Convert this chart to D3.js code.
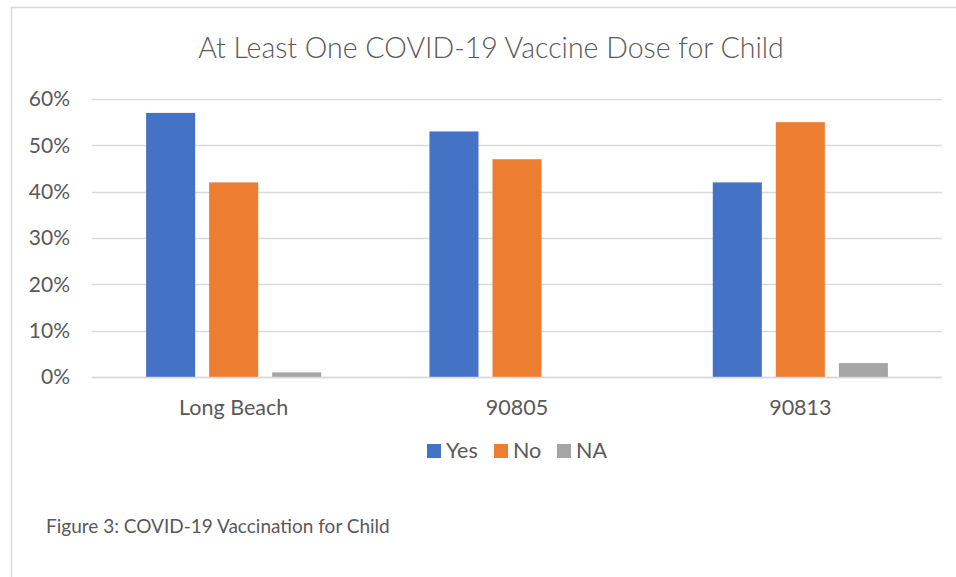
<!DOCTYPE html>
<html>
<head>
<meta charset="utf-8">
<script src="https://cdn.jsdelivr.net/npm/d3@7"></script>
<style>
  html, body { margin: 0; padding: 0; background: #fff; }
  svg { display: block; font-family: Lato, "Noto Sans", sans-serif; }
</style>
</head>
<body>
<div id="chart"></div>
<script>
// ---------- Data ----------
const categories = ["Long Beach", "90805", "90813"];
const seriesNames = ["Yes", "No", "NA"];
const yesValues = [0.57, 0.53, 0.42];
const noValues = [0.42, 0.47, 0.55];
const naValues = [0.01, 0.0, 0.03];
const yTicks = [0, 0.1, 0.2, 0.3, 0.4, 0.5, 0.6];
const titleText = "At Least One COVID-19 Vaccine Dose for Child";
const captionText = "Figure 3: COVID-19 Vaccination for Child";

const COLORS = d3.scaleOrdinal().domain(seriesNames).range(["#4472C4", "#ED7D31", "#A5A5A5"]);
const TEXT = "#595959";

const rows = categories.map((c, i) => ({
  cat: c,
  vals: [
    { s: "Yes", v: yesValues[i] },
    { s: "No", v: noValues[i] },
    { s: "NA", v: naValues[i] },
  ],
}));

const W = 956, H = 577;
const svg = d3.select("#chart").append("svg").attr("width", W).attr("height", H);

// frame
svg.append("rect")
  .attr("x", 11.5).attr("y", 7.5)
  .attr("width", W + 20).attr("height", H + 20)
  .attr("fill", "#fff").attr("stroke", "#d9d9d9").attr("stroke-width", 1.5);

// title
svg.append("text")
  .attr("x", 491).attr("y", 58)
  .attr("text-anchor", "middle")
  .attr("fill", TEXT).attr("font-size", 28.5).attr("font-weight", 300)
  .text(titleText);

// ---------- Scales ----------
const x0 = d3.scaleBand().domain(categories).range([92, 942]).paddingInner(0.382).paddingOuter(0.191);
const x1 = d3.scaleBand().domain(seriesNames).range([0, x0.bandwidth()]).paddingInner(0.222);
const y = d3.scaleLinear().domain([0, 0.6]).range([377, 99]);

// gridlines
svg.append("g")
  .selectAll("line")
  .data(yTicks)
  .enter()
  .append("line")
  .attr("x1", 92).attr("x2", 942)
  .attr("y1", (d) => Math.round(y(d)) + 0.5)
  .attr("y2", (d) => Math.round(y(d)) + 0.5)
  .attr("stroke", "#d9d9d9").attr("stroke-width", 1.5);

// y axis labels
const yAxis = svg.append("g")
  .attr("transform", "translate(70,0)")
  .call(d3.axisLeft(y).tickValues(yTicks).tickFormat(d3.format(".0%")).tickSize(0).tickPadding(0));
yAxis.select(".domain").remove();
yAxis.selectAll("text").attr("fill", TEXT).attr("font-size", 21).attr("font-family", "Lato, sans-serif");

// bars
svg.append("g")
  .selectAll("g")
  .data(rows)
  .enter()
  .append("g")
  .attr("transform", (d) => `translate(${x0(d.cat)},0)`)
  .selectAll("rect")
  .data((d) => d.vals)
  .enter()
  .append("rect")
  .attr("x", (d) => x1(d.s))
  .attr("y", (d) => y(d.v))
  .attr("width", x1.bandwidth())
  .attr("height", (d) => y(0) - y(d.v))
  .attr("fill", (d) => COLORS(d.s));

// baseline
svg.append("line")
  .attr("x1", 92).attr("x2", 942)
  .attr("y1", 377.5).attr("y2", 377.5)
  .attr("stroke", "#d9d9d9").attr("stroke-width", 1.5);

// x axis labels
const xAxis = svg.append("g")
  .attr("transform", "translate(0,400)")
  .call(d3.axisBottom(x0).tickSize(0).tickPadding(0));
xAxis.select(".domain").remove();
xAxis.selectAll("text").attr("fill", TEXT).attr("font-size", 21.5).attr("font-family", "Lato, sans-serif");

// legend
const legendX = [427, 494, 557];
const legend = svg.append("g")
  .selectAll("g")
  .data(seriesNames)
  .enter()
  .append("g")
  .attr("transform", (d, i) => `translate(${legendX[i]},444)`);
legend.append("rect").attr("width", 14).attr("height", 14).attr("fill", (d) => COLORS(d));
legend.append("text")
  .attr("x", 19).attr("y", 14)
  .attr("fill", TEXT).attr("font-size", 21.5)
  .text((d) => d);

// caption
svg.append("text")
  .attr("x", 46).attr("y", 533)
  .attr("fill", TEXT).attr("font-size", 19)
  .text(captionText);
</script>
</body>
</html>
